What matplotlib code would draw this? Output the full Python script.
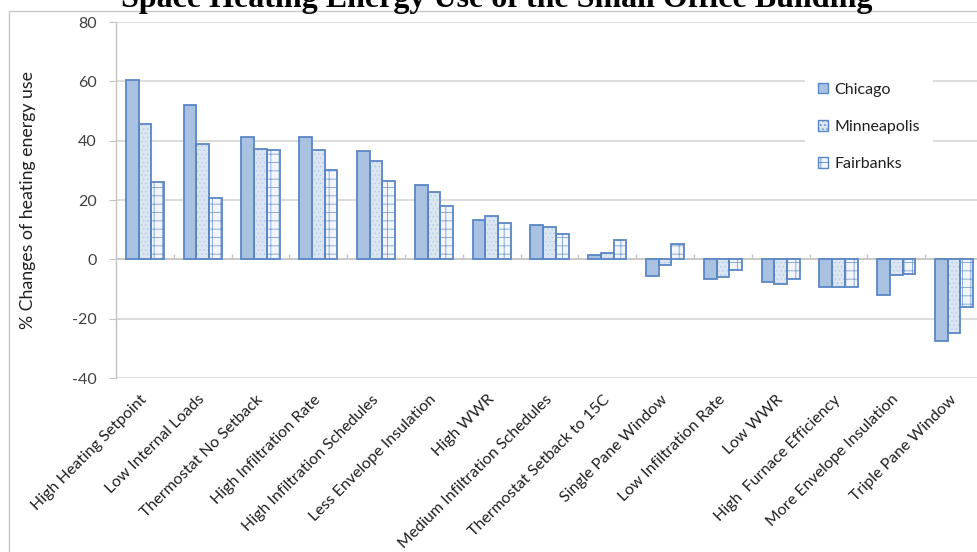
import matplotlib
matplotlib.use("Agg")
import matplotlib.pyplot as plt
from matplotlib.patches import Patch, Rectangle
import numpy as np

# Parametric cases and the change in space heating energy (%) per city
categories = [
    "High Heating Setpoint", "Low Internal Loads", "Thermostat No Setback",
    "High Infiltration Rate", "High Infiltration Schedules", "Less Envelope Insulation",
    "High WWR", "Medium Infiltration Schedules", "Thermostat Setback to 15C",
    "Single Pane Window", "Low Infiltration Rate", "Low WWR",
    "High  Furnace Efficiency", "More Envelope Insulation", "Triple Pane Window",
]
chicago = [60.4, 52.1, 41.4, 41.4, 36.4, 24.9, 13.4, 11.7, 1.3, -5.6, -6.5, -7.6, -9.2, -12.1, -27.4]
minneapolis = [45.6, 38.9, 37.3, 36.7, 33.1, 22.6, 14.5, 10.9, 2.1, -2.0, -5.8, -8.4, -9.2, -5.4, -24.9]
fairbanks = [26.1, 20.7, 37.0, 30.2, 26.4, 17.9, 12.2, 8.7, 6.4, 5.3, -3.7, -6.5, -9.2, -4.8, -15.9]
series_names = ["Chicago", "Minneapolis", "Fairbanks"]
y_ticks = [-40, -20, 0, 20, 40, 60, 80]

FONT = "Lato"
plt.rcParams["font.family"] = [FONT, "DejaVu Sans"]
plt.rcParams["hatch.linewidth"] = 0.6

W, H = 977, 552
fig = plt.figure(figsize=(W / 100, H / 100), dpi=100)

# chart frame and title along the top edge
fig.patches.append(Rectangle((9 / W, -0.1), 1.2, 1 - 11 / H + 0.1, transform=fig.transFigure,
                             fill=False, edgecolor="#c8c8c8", linewidth=1.0, zorder=0))
fig.text(497 / W, 1 - 6.5 / H, "Space Heating Energy Use of the Small Office Building",
         ha="center", va="baseline", fontsize=23, fontweight="bold",
         family=["Liberation Serif", "DejaVu Serif"])

ax = fig.add_axes([116 / W, 1 - 378 / H, 867 / W, (378 - 22) / H])
ax.set_xlim(-0.5, len(categories) - 0.5)
ax.set_ylim(-40, 80)

x = np.arange(len(categories))
bw = 0.22
edge = "#5a87c5"
styles = [
    dict(face="#a9c2e2", hatch=None, hcol=None),
    dict(face="#dce6f3", hatch="....", hcol="#b7cbe6"),
    dict(face="#f2f6fb", hatch="++", hcol="#7ea1d3"),
]
data = [chicago, minneapolis, fairbanks]
for k, (vals, st) in enumerate(zip(data, styles)):
    pos = x + (k - 1) * bw
    if st["hatch"]:
        ax.bar(pos, vals, bw, color=st["face"], edgecolor=st["hcol"], hatch=st["hatch"],
               linewidth=0, zorder=3)
    else:
        ax.bar(pos, vals, bw, color=st["face"], linewidth=0, zorder=3)
    ax.bar(pos, vals, bw, fill=False, edgecolor=edge, linewidth=1.3, zorder=4)

# grid, axes lines and ticks
for t in y_ticks:
    if t != 0:
        ax.axhline(t, color="#d9d9d9", linewidth=1.3, zorder=1)
ax.axhline(0, color="#c4c4c4", linewidth=1.3, zorder=2)
ax.vlines(np.arange(len(categories) + 1) - 0.5, 0, 1.7, color="#c4c4c4", linewidth=1.0, zorder=2)

for s in ["top", "right", "bottom"]:
    ax.spines[s].set_visible(False)
ax.spines["left"].set_color("#c4c4c4")
ax.spines["left"].set_linewidth(1.0)

ax.set_yticks(y_ticks)
ax.set_yticklabels([str(t) for t in y_ticks])
ax.tick_params(axis="y", length=5, color="#c4c4c4", labelsize=11.5, labelcolor="#404040", pad=9)
ax.set_xticks(x)
ax.set_xticklabels(categories, rotation=45, ha="right", va="center",
                   rotation_mode="anchor", fontsize=11.5, color="#202020")
ax.tick_params(axis="x", length=0, pad=14)

ax.set_ylabel("% Changes of heating energy use", fontsize=12.8, color="#202020", labelpad=26)

# legend
handles = []
for name, st in zip(series_names, styles):
    handles.append(Patch(facecolor=st["face"], edgecolor=edge,
                         hatch=st["hatch"], linewidth=1.0, label=name))
leg = fig.legend(handles=handles, loc="upper left", bbox_to_anchor=(805 / W, 1 - 70 / H),
                 frameon=True, fancybox=False, framealpha=1, facecolor="white",
                 edgecolor="none", fontsize=11.5, handlelength=0.65, handleheight=0.65,
                 handletextpad=0.4, labelspacing=1.45, borderpad=0.8, borderaxespad=0)
for t in leg.get_texts():
    t.set_color("#202020")

fig.savefig("out.png", dpi=100)
